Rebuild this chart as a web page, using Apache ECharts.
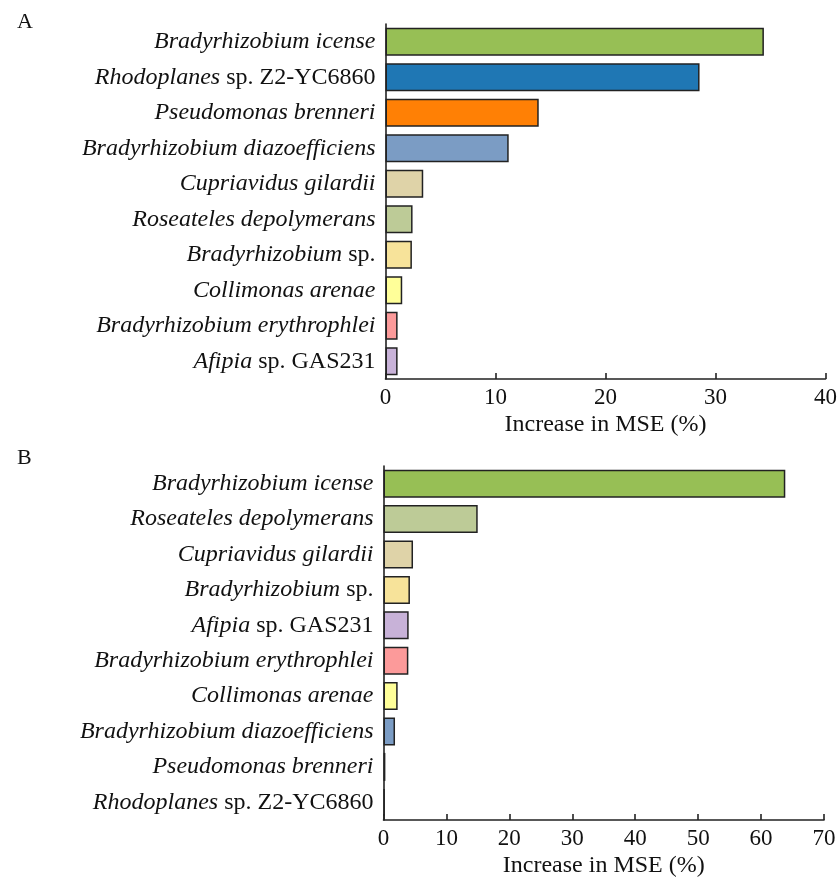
<!DOCTYPE html>
<html><head><meta charset="utf-8">
<script src="https://cdn.jsdelivr.net/npm/echarts@6/dist/echarts.min.js"></script>
<style>html,body{margin:0;padding:0;background:#fff}#c{width:840px;height:879px}</style>
</head><body><div id="c"></div>
<script>
// Panel A
var categoriesA = ['Bradyrhizobium icense','Rhodoplanes sp. Z2-YC6860','Pseudomonas brenneri','Bradyrhizobium diazoefficiens','Cupriavidus gilardii','Roseateles depolymerans','Bradyrhizobium sp.','Collimonas arenae','Bradyrhizobium erythrophlei','Afipia sp. GAS231'];
var valuesA = [34.4, 28.55, 13.93, 11.2, 3.43, 2.46, 2.4, 1.52, 1.1, 1.1];
var ticksA = [0, 10, 20, 30, 40];
// Panel B
var categoriesB = ['Bradyrhizobium icense','Roseateles depolymerans','Cupriavidus gilardii','Bradyrhizobium sp.','Afipia sp. GAS231','Bradyrhizobium erythrophlei','Collimonas arenae','Bradyrhizobium diazoefficiens','Pseudomonas brenneri','Rhodoplanes sp. Z2-YC6860'];
var valuesB = [63.85, 14.97, 4.69, 4.2, 4.0, 3.95, 2.25, 1.83, 0.3, 0.2];
var ticksB = [0, 10, 20, 30, 40, 50, 60, 70];
var axisTitle = 'Increase in MSE (%)';

var colorMap = {
  'Bradyrhizobium icense':'#97BF55',
  'Rhodoplanes sp. Z2-YC6860':'#1F77B4',
  'Pseudomonas brenneri':'#FF8005',
  'Bradyrhizobium diazoefficiens':'#7B9CC4',
  'Cupriavidus gilardii':'#DFD3A8',
  'Roseateles depolymerans':'#BDCB97',
  'Bradyrhizobium sp.':'#F7E39A',
  'Collimonas arenae':'#FFFF99',
  'Bradyrhizobium erythrophlei':'#FC9A9A',
  'Afipia sp. GAS231':'#C8B2D8'
};
var FONT = '"Liberation Serif","Times New Roman",serif';

function fmtLabel(v){
  var i = v.indexOf(' sp.');
  if (i >= 0) return '{it|' + v.slice(0,i) + '}{rm|' + v.slice(i) + '}';
  return '{it|' + v + '}';
}
var rich = {
  it:{fontStyle:'italic', fontFamily:FONT, fontSize:24, color:'#111'},
  rm:{fontStyle:'normal', fontFamily:FONT, fontSize:24, color:'#111'}
};
function mkData(cats, vals){
  return vals.map(function(v,i){return {value:v, itemStyle:{color:colorMap[cats[i]]}};});
}
var axisLine = {show:true, lineStyle:{color:'#222', width:1.6}};
function xAx(idx, ticks){
  return {gridIndex:idx, type:'value', min:ticks[0], max:ticks[ticks.length-1], interval:ticks[1]-ticks[0],
     name:axisTitle, nameLocation:'middle', nameGap:34,
     nameTextStyle:{fontFamily:FONT, fontSize:24, color:'#111'},
     axisLine:axisLine, axisTick:{show:true, inside:true, length:6, lineStyle:{color:'#222', width:1.6}},
     axisLabel:{fontFamily:FONT, fontSize:23, color:'#111', margin:7},
     splitLine:{show:false}};
}
function yAx(idx, cats){
  return {gridIndex:idx, type:'category', data:cats, inverse:true,
     axisLine:axisLine, axisTick:{show:false},
     axisLabel:{formatter:fmtLabel, rich:rich, margin:10}};
}

var chart = echarts.init(document.getElementById('c'), null, {renderer:'canvas'});
chart.setOption({
  animation:false,
  backgroundColor:'#fff',
  title:[
    {text:'A', left:12, top:6, textStyle:{fontFamily:FONT, fontWeight:'normal', fontSize:22, color:'#111'}},
    {text:'B', left:12, top:442, textStyle:{fontFamily:FONT, fontWeight:'normal', fontSize:22, color:'#111'}}
  ],
  grid:[
    {left:385.5, top:24, width:441.5, height:355},
    {left:383.5, top:466, width:440.5, height:355}
  ],
  xAxis:[xAx(0, ticksA), xAx(1, ticksB)],
  yAxis:[yAx(0, categoriesA), yAx(1, categoriesB)],
  series:[
    {type:'bar', xAxisIndex:0, yAxisIndex:0, data:mkData(categoriesA, valuesA), barCategoryGap:'21%',
     itemStyle:{borderColor:'#222', borderWidth:1.5}},
    {type:'bar', xAxisIndex:1, yAxisIndex:1, data:mkData(categoriesB, valuesB), barCategoryGap:'21%',
     itemStyle:{borderColor:'#222', borderWidth:1.5}}
  ]
});
</script></body></html>
